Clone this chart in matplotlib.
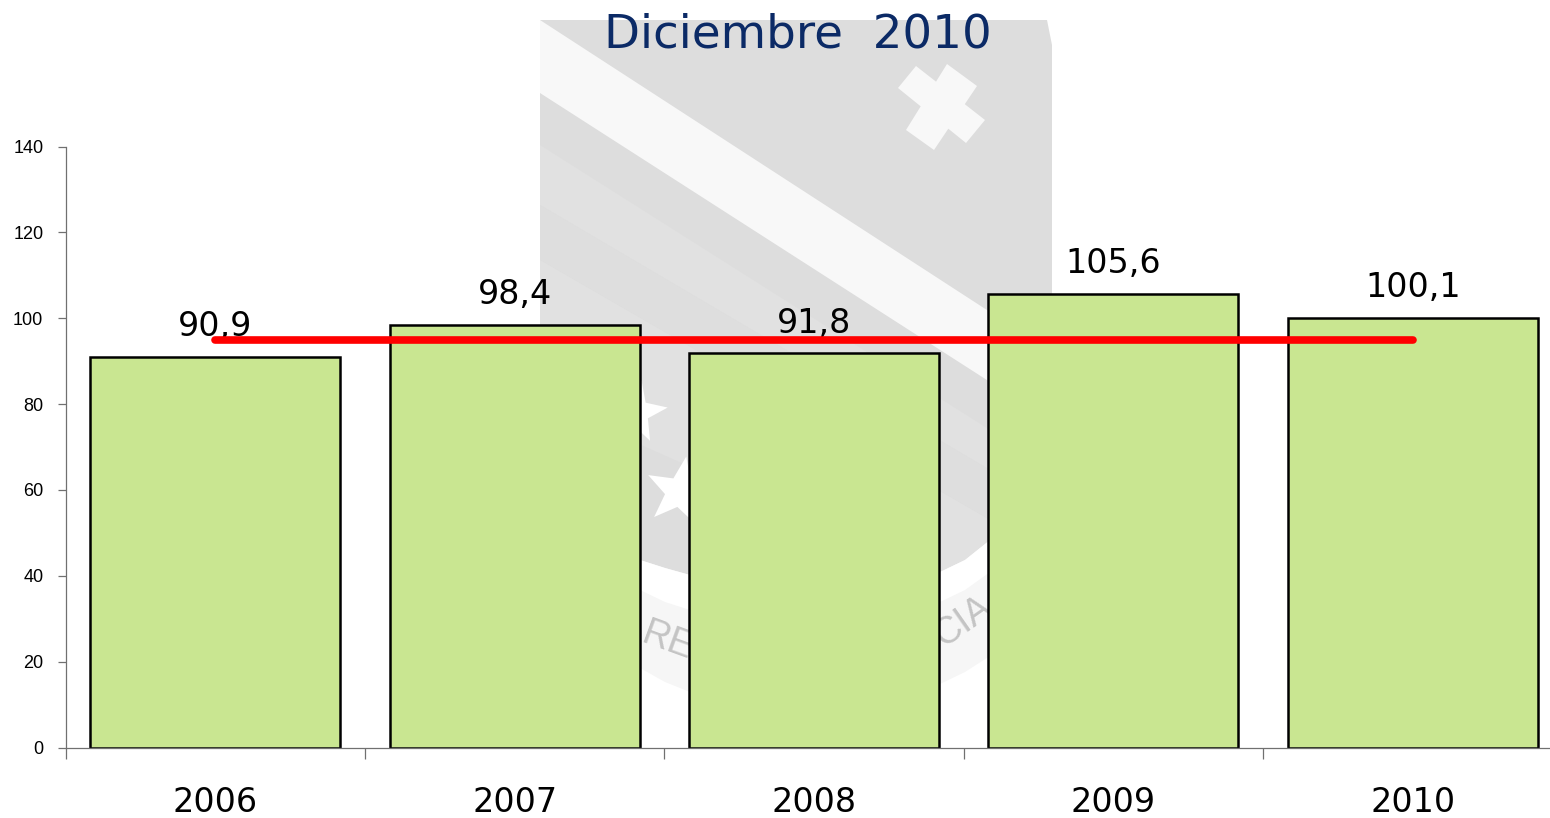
import matplotlib
matplotlib.use("Agg")
import matplotlib.pyplot as plt
from matplotlib.patches import Polygon
import numpy as np

years = ["2006", "2007", "2008", "2009", "2010"]
values = [90.9, 98.4, 91.8, 105.6, 100.1]
value_labels = ["90,9", "98,4", "91,8", "105,6", "100,1"]
average = [95, 95, 95, 95, 95]
y_ticks = [0, 20, 40, 60, 80, 100, 120, 140]

W, H = 1550, 818
fig = plt.figure(figsize=(W / 100, H / 100), dpi=100, facecolor="white")

# faded crest behind the chart, in pixel coordinates
bg = fig.add_axes([0, 0, 1, 1], zorder=0)
bg.set_xlim(0, W)
bg.set_ylim(H, 0)
bg.axis("off")

def star(cx, cy, r, rot):
    a = np.radians(np.arange(0, 360, 36) + rot)
    rad = np.where(np.arange(10) % 2 == 0, r, r * 0.42)
    return np.column_stack([cx + rad * np.sin(a), cy - rad * np.cos(a)])

shield = [(540, 20), (1047, 20), (1052, 45), (1052, 400), (1035, 500), (990, 590),
          (900, 670), (815, 700), (730, 670), (640, 590), (575, 500), (540, 400)]
bg.add_patch(Polygon(shield, fc="#dddddd", ec="none"))
# lower stripes of the shield
bg.add_patch(Polygon([(540, 145), (990, 430), (990, 470), (540, 205)], fc="#e1e1e1", ec="none"))
bg.add_patch(Polygon([(540, 205), (990, 470), (990, 520), (540, 260)], fc="#dedede", ec="none"))
bg.add_patch(Polygon([(540, 260), (990, 520), (990, 600), (540, 400)], fc="#e1e1e1", ec="none"))
# white band and cross
bg.add_patch(Polygon([(540, 20), (990, 312), (990, 382), (540, 93)], fc="#f8f8f8", ec="none"))
bg.add_patch(Polygon([(947, 64), (977, 86), (934, 150), (906, 130)], fc="#f8f8f8", ec="none"))
bg.add_patch(Polygon([(898, 88), (916, 66), (985, 120), (966, 143)], fc="#f8f8f8", ec="none"))
# stars
bg.add_patch(Polygon(star(636, 412, 32, 10), fc="white", ec="none"))
bg.add_patch(Polygon(star(680, 492, 36, 10), fc="white", ec="none"))
# ring round the bottom of the crest
bg.add_patch(Polygon([(640, 560), (665, 568), (690, 575), (690, 692), (665, 682), (640, 668)],
                     fc="#f6f6f6", ec="none"))
bg.add_patch(Polygon([(640, 560), (665, 568), (690, 575), (690, 610), (665, 602), (640, 590)],
                     fc="white", ec="none"))
bg.add_patch(Polygon([(940, 572), (965, 560), (990, 540), (990, 656), (965, 672), (940, 684)],
                     fc="#f6f6f6", ec="none"))
bg.add_patch(Polygon([(940, 572), (965, 560), (990, 540), (990, 572), (965, 590), (940, 602)],
                     fc="white", ec="none"))
bg.text(668, 642, "RE", fontsize=27, color="#c4c4c4", rotation=-20, ha="center", va="center",
        family="Liberation Sans")
bg.text(963, 622, "CIA", fontsize=27, color="#c4c4c4", rotation=35, ha="center", va="center",
        family="Liberation Sans")

# the chart: x axis runs a little past the right edge, as in the original
left, right = 65.5, 1562.5
bottom, top = 747.5, 146.5
ax = fig.add_axes([left / W, 1 - bottom / H, (right - left) / W, (bottom - top) / H], zorder=1)
ax.patch.set_alpha(0)

x = np.arange(len(years))
ax.bar(x, values, width=0.835, color="#c9e691", edgecolor="black", linewidth=1.8, zorder=2)
for xi, v, lab in zip(x, values, value_labels):
    ax.annotate(lab, (xi, v), xytext=(0, 10), textcoords="offset points", ha="center", va="bottom",
                fontsize=24, color="black", family="DejaVu Sans", zorder=3)
ax.plot(x, average, color="#ff0000", linewidth=5.5, solid_capstyle="round", zorder=4)

ax.set_xlim(-0.5, 4.5)
ax.set_ylim(0, 140)
ax.set_yticks(y_ticks)
ax.set_xticks(np.arange(0, 5) - 0.5, minor=False)
ax.set_xticklabels([])
ax.set_xticks(x, minor=True)
ax.set_xticklabels(years, minor=True, fontsize=24, family="DejaVu Sans", color="black")
ax.tick_params(axis="x", which="minor", length=0, pad=28)
ax.tick_params(axis="x", which="major", length=8, width=0.9, color="#707070")
ax.tick_params(axis="y", length=6, width=0.9, color="#707070", pad=10, labelcolor="black")
for t in ax.get_yticklabels():
    t.set_fontsize(13)
    t.set_family("Liberation Sans")
for s in ["top", "right"]:
    ax.spines[s].set_visible(False)
for s in ["left", "bottom"]:
    ax.spines[s].set_color("#707070")
    ax.spines[s].set_linewidth(0.9)

fig.text(798 / W, 1 - 35 / H, "Diciembre  2010", fontsize=33.7, color="#0b2a66", ha="center", va="center",
         family="DejaVu Sans", zorder=5)

fig.savefig("out.png", dpi=100)
